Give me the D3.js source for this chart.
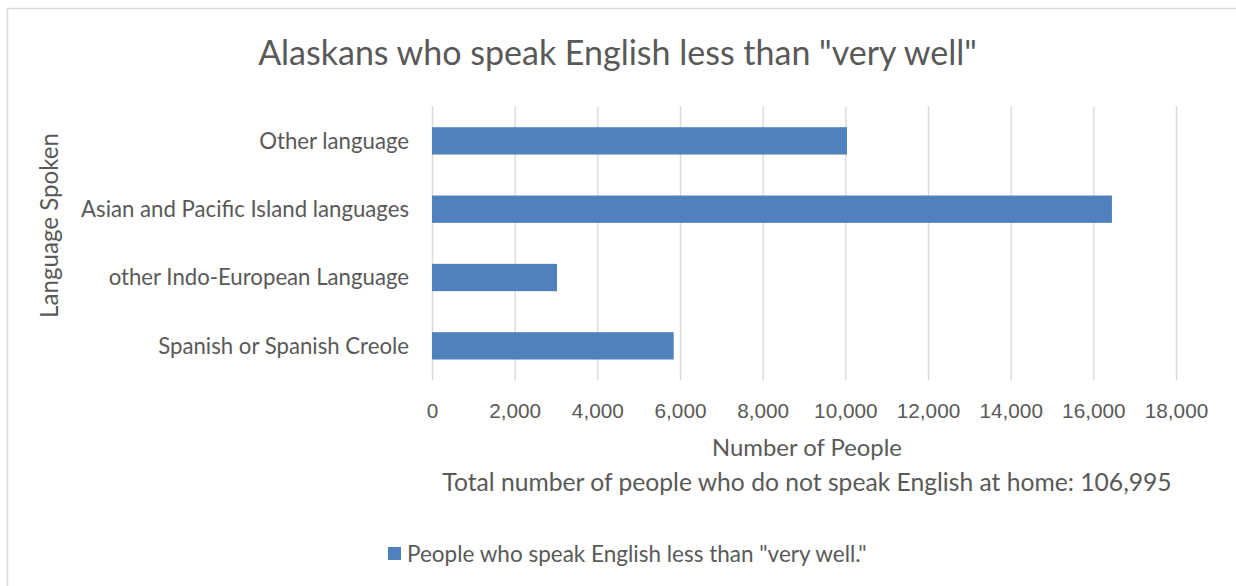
<!DOCTYPE html>
<html>
<head>
<meta charset="utf-8">
<script src="https://cdn.jsdelivr.net/npm/d3@7"></script>
<style>
	body { margin: 0; background: #fff; }
	svg { display: block; font-family: Lato, "Open Sans", sans-serif; }
</style>
</head>
<body>
<div id="chart"></div>
<script>
// data
var categories = ["Other language", "Asian and Pacific Island languages", "other Indo-European Language", "Spanish or Spanish Creole"];
var speakers = [10040, 16450, 3024, 5847];
var xTicks = [0, 2000, 4000, 6000, 8000, 10000, 12000, 14000, 16000, 18000];
var chartTitle = 'Alaskans who speak English less than "very well"';
var xTitle = "Number of People";
var xNote = "Total number of people who do not speak English at home: 106,995";
var yTitle = "Language Spoken";
var legendLabel = 'People who speak English less than "very well."';

var bar_chart = {
	init: function () {
		var self = this;
		self.width = 1236;
		self.height = 586;
		self.textColor = "#595959";
		self.barColor = "#4f81bd";
		self.svg = d3.select("#chart").append("svg")
			.attr("width", self.width)
			.attr("height", self.height);

		// chart frame, only top and left edges show in the picture
		self.svg.append("rect")
			.attr("x", 7.5).attr("y", 8.5)
			.attr("width", 1300).attr("height", 700)
			.attr("fill", "#fff")
			.attr("stroke", "#d9d9d9")
			.attr("stroke-width", 1.5);

		self.x = d3.scaleLinear().domain([0, 18000]).range([432, 1176]);
		self.y = d3.scaleBand().domain(categories).range([106.7, 380])
			.paddingInner(0.6).paddingOuter(0.3);

		self.drawGrid();
		self.drawBars();
		self.drawLabels();
		self.drawLegend();
	},
	// shrink or grow font so the text keeps the width seen in the picture
	fit: function (sel, target) {
		var base = parseFloat(sel.attr("font-size"));
		var w = sel.node().getComputedTextLength();
		var size = base * target / w;
		sel.attr("font-size", size);
		return size;
	},
	drawGrid: function () {
		var self = this;
		var top = self.y.range()[0], bottom = self.y.range()[1];
		var axis = d3.axisBottom(self.x)
			.tickValues(xTicks)
			.tickFormat(d3.format(","))
			.tickSize(-(bottom - top))
			.tickPadding(0);
		var g = self.svg.append("g")
			.attr("transform", "translate(0," + bottom + ")")
			.call(axis);
		g.select(".domain").remove();
		g.selectAll(".tick line")
			.attr("stroke", "#d9d9d9")
			.attr("stroke-width", 1.4);
		var labels = g.selectAll(".tick text")
			.attr("fill", self.textColor)
			.attr("font-family", null)
			.attr("font-size", 20)
			.attr("dy", null)
			.attr("y", 418 - bottom);
		var probe = labels.filter(function (d) { return d === 2000; });
		var size = self.fit(probe, 52);
		labels.attr("font-size", size);
	},
	drawBars: function () {
		var self = this;
		self.svg.append("g")
			.selectAll("rect")
			.data(categories)
			.enter().append("rect")
			.attr("x", self.x(0))
			.attr("y", function (d) { return self.y(d); })
			.attr("width", function (d, i) { return self.x(speakers[i]) - self.x(0); })
			.attr("height", self.y.bandwidth())
			.attr("fill", self.barColor);
	},
	drawLabels: function () {
		var self = this;
		var cat = self.svg.append("g")
			.selectAll("text")
			.data(categories)
			.enter().append("text")
			.attr("x", 409)
			.attr("y", function (d) { return self.y(d) + self.y.bandwidth() / 2; })
			.attr("dy", "0.35em")
			.attr("text-anchor", "end")
			.attr("fill", self.textColor)
			.attr("font-size", 20)
			.text(function (d) { return d; });
		var size = self.fit(cat.filter(function (d, i) { return i === 1; }), 328);
		cat.attr("font-size", size);

		var title = self.svg.append("text")
			.attr("x", 617.5).attr("y", 65)
			.attr("text-anchor", "middle")
			.attr("fill", self.textColor)
			.attr("font-size", 30)
			.text(chartTitle);
		self.fit(title, 719);

		var xt = self.svg.append("text")
			.attr("x", 807).attr("y", 456)
			.attr("text-anchor", "middle")
			.attr("fill", self.textColor)
			.attr("font-size", 20)
			.text(xTitle);
		self.fit(xt, 190);

		var note = self.svg.append("text")
			.attr("x", 807).attr("y", 491)
			.attr("text-anchor", "middle")
			.attr("fill", self.textColor)
			.attr("font-size", 20)
			.text(xNote);
		self.fit(note, 730);

		var yt = self.svg.append("text")
			.attr("transform", "translate(58,225.5) rotate(-90)")
			.attr("text-anchor", "middle")
			.attr("fill", self.textColor)
			.attr("font-size", 20)
			.text(yTitle);
		self.fit(yt, 185);
	},
	drawLegend: function () {
		var self = this;
		var lg = self.svg.append("g");
		lg.append("rect")
			.attr("x", 388).attr("y", 547)
			.attr("width", 13).attr("height", 13)
			.attr("fill", self.barColor);
		var t = lg.append("text")
			.attr("x", 407).attr("y", 561.5)
			.attr("fill", self.textColor)
			.attr("font-size", 18)
			.text(legendLabel);
		self.fit(t, 460);
	}
};

bar_chart.init();
</script>
</body>
</html>
